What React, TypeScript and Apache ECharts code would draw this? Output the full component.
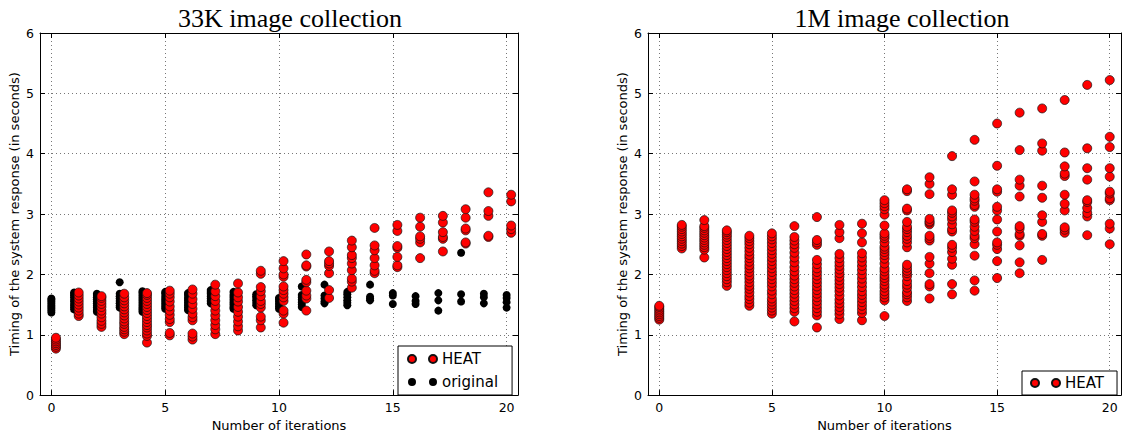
import React, { useEffect, useRef } from "react";
import * as echarts from "echarts";

// iterations (x categories)
const ITERATIONS = [0, 1, 2, 3, 4, 5, 6, 7, 8, 9, 10, 11, 12, 13, 14, 15, 16, 17, 18, 19, 20];
// HEAT points in the 33K plot sit slightly right of the integer iteration
const HEAT_SHIFT_33K = 0.2;

// 33K image collection — original (black)
const original33k: number[][] = [
  [1.37, 1.40, 1.43, 1.46, 1.49, 1.52, 1.55, 1.58, 1.60],
  [1.42, 1.45, 1.48, 1.51, 1.55, 1.58, 1.62, 1.65, 1.68, 1.70],
  [1.38, 1.41, 1.45, 1.48, 1.52, 1.55, 1.59, 1.62, 1.66, 1.68],
  [1.45, 1.48, 1.52, 1.56, 1.60, 1.64, 1.68, 1.87],
  [1.38, 1.42, 1.45, 1.49, 1.53, 1.57, 1.61, 1.65, 1.69, 1.72],
  [1.43, 1.47, 1.51, 1.55, 1.59, 1.63, 1.68, 1.71],
  [1.41, 1.45, 1.49, 1.53, 1.57, 1.61, 1.66, 1.69],
  [1.52, 1.56, 1.60, 1.64, 1.68, 1.71, 1.74],
  [1.43, 1.46, 1.50, 1.54, 1.58, 1.62, 1.66, 1.71],
  [1.49, 1.53, 1.57, 1.61, 1.64, 1.67],
  [1.43, 1.47, 1.51, 1.55, 1.59, 1.61],
  [1.46, 1.50, 1.54, 1.58, 1.62, 1.66, 1.80],
  [1.52, 1.55, 1.60, 1.65, 1.83],
  [1.49, 1.53, 1.57, 1.62, 1.67, 1.71],
  [1.57, 1.60, 1.63, 1.83],
  [1.51, 1.65, 1.69],
  [1.51, 1.56, 1.64],
  [1.40, 1.57, 1.69],
  [1.55, 1.67, 2.36],
  [1.52, 1.62, 1.68],
  [1.45, 1.54, 1.61, 1.66],
];

// 33K image collection — HEAT (red)
const heat33k: number[][] = [
  [0.77, 0.80, 0.83, 0.86, 0.89, 0.92, 0.95],
  [1.31, 1.35, 1.40, 1.45, 1.50, 1.55, 1.60, 1.65, 1.70],
  [1.13, 1.18, 1.23, 1.29, 1.35, 1.40, 1.46, 1.51, 1.56, 1.61, 1.64],
  [1.01, 1.05, 1.09, 1.13, 1.18, 1.22, 1.27, 1.32, 1.37, 1.42, 1.47, 1.52, 1.57, 1.62, 1.68],
  [0.87, 0.98, 1.02, 1.07, 1.12, 1.16, 1.21, 1.26, 1.31, 1.36, 1.41, 1.46, 1.51, 1.56, 1.61, 1.66, 1.69],
  [0.99, 1.03, 1.21, 1.26, 1.33, 1.40, 1.47, 1.55, 1.62, 1.68, 1.73],
  [0.92, 0.97, 1.02, 1.24, 1.29, 1.35, 1.43, 1.51, 1.59, 1.68, 1.75],
  [1.01, 1.09, 1.16, 1.24, 1.32, 1.40, 1.48, 1.56, 1.64, 1.72, 1.83],
  [1.07, 1.14, 1.22, 1.30, 1.38, 1.46, 1.55, 1.62, 1.70, 1.85],
  [1.12, 1.24, 1.30, 1.45, 1.51, 1.56, 1.64, 1.72, 1.79, 2.01, 2.06],
  [1.20, 1.35, 1.40, 1.56, 1.62, 1.68, 1.74, 1.80, 1.96, 2.00, 2.10, 2.22],
  [1.40, 1.60, 1.65, 1.73, 1.87, 1.91, 2.13, 2.15, 2.33],
  [1.61, 1.74, 2.02, 2.14, 2.18, 2.22, 2.38],
  [1.78, 1.88, 1.93, 2.07, 2.18, 2.27, 2.32, 2.45, 2.56],
  [2.02, 2.06, 2.15, 2.27, 2.40, 2.48, 2.77],
  [2.12, 2.15, 2.29, 2.44, 2.47, 2.72, 2.82],
  [2.27, 2.53, 2.59, 2.63, 2.79, 2.94],
  [2.38, 2.59, 2.62, 2.70, 2.86, 2.97],
  [2.51, 2.53, 2.73, 2.76, 2.94, 3.08],
  [2.62, 2.64, 2.97, 3.05, 3.36],
  [2.69, 2.75, 2.81, 3.21, 3.32],
];

// 1M image collection — HEAT (red)
const heat1m: number[][] = [
  [1.25, 1.28, 1.31, 1.34, 1.37, 1.40, 1.43, 1.46, 1.48],
  [2.43, 2.47, 2.51, 2.55, 2.59, 2.63, 2.67, 2.71, 2.75, 2.79, 2.82],
  [2.28, 2.41, 2.45, 2.49, 2.53, 2.57, 2.61, 2.65, 2.69, 2.73, 2.77, 2.80, 2.90],
  [1.81, 1.87, 1.92, 1.97, 2.02, 2.07, 2.12, 2.17, 2.22, 2.27, 2.32, 2.37, 2.42, 2.47, 2.52, 2.57, 2.62, 2.66, 2.70, 2.73],
  [1.48, 1.53, 1.59, 1.64, 1.70, 1.76, 1.81, 1.87, 1.93, 1.98, 2.04, 2.10, 2.15, 2.21, 2.27, 2.32, 2.38, 2.44, 2.50, 2.55, 2.60, 2.64],
  [1.35, 1.40, 1.45, 1.50, 1.55, 1.60, 1.67, 1.73, 1.80, 1.86, 1.92, 1.98, 2.04, 2.10, 2.16, 2.22, 2.28, 2.34, 2.40, 2.46, 2.52, 2.58, 2.63, 2.68],
  [1.22, 1.38, 1.44, 1.50, 1.56, 1.62, 1.68, 1.74, 1.80, 1.86, 1.92, 1.98, 2.05, 2.12, 2.20, 2.28, 2.36, 2.44, 2.50, 2.56, 2.62, 2.80],
  [1.12, 1.32, 1.38, 1.44, 1.50, 1.56, 1.62, 1.68, 1.74, 1.80, 1.86, 1.92, 1.98, 2.04, 2.10, 2.17, 2.24, 2.49, 2.53, 2.57, 2.95],
  [1.26, 1.34, 1.40, 1.46, 1.52, 1.58, 1.65, 1.72, 1.78, 1.84, 1.90, 1.96, 2.02, 2.08, 2.14, 2.20, 2.27, 2.34, 2.60, 2.70, 2.82],
  [1.24, 1.36, 1.42, 1.48, 1.54, 1.60, 1.66, 1.72, 1.79, 1.86, 1.93, 2.00, 2.07, 2.14, 2.21, 2.28, 2.35, 2.53, 2.68, 2.84],
  [1.31, 1.57, 1.62, 1.67, 1.72, 1.78, 1.83, 1.89, 1.94, 1.99, 2.05, 2.10, 2.18, 2.26, 2.32, 2.37, 2.42, 2.46, 2.53, 2.60, 2.64, 2.68, 2.81, 2.99, 3.08, 3.13, 3.18, 3.23],
  [1.56, 1.62, 1.67, 1.71, 1.78, 1.83, 1.89, 1.97, 2.02, 2.06, 2.11, 2.16, 2.45, 2.53, 2.59, 2.64, 2.70, 2.75, 2.79, 2.87, 3.06, 3.09, 3.38, 3.41],
  [1.60, 1.80, 1.84, 2.02, 2.18, 2.29, 2.56, 2.60, 2.64, 2.83, 2.86, 2.88, 2.92, 3.33, 3.50, 3.61],
  [1.67, 1.84, 2.16, 2.26, 2.37, 2.44, 2.49, 2.71, 2.75, 2.83, 2.91, 2.96, 3.02, 3.06, 3.32, 3.41, 3.96],
  [1.73, 1.90, 2.31, 2.50, 2.60, 2.64, 2.72, 2.79, 2.87, 2.91, 3.12, 3.15, 3.22, 3.26, 3.32, 3.54, 4.23],
  [1.94, 2.22, 2.42, 2.49, 2.53, 2.71, 2.91, 3.06, 3.12, 3.37, 3.41, 3.80, 4.50],
  [2.02, 2.20, 2.48, 2.64, 2.67, 2.76, 2.80, 3.29, 3.47, 3.57, 4.06, 4.68],
  [2.24, 2.64, 2.67, 2.87, 2.98, 3.27, 3.47, 4.05, 4.17, 4.75],
  [2.69, 2.74, 2.78, 3.06, 3.17, 3.32, 3.63, 3.67, 3.79, 4.02, 4.89],
  [2.65, 2.96, 3.02, 3.10, 3.20, 3.23, 3.57, 3.76, 4.09, 5.14],
  [2.50, 2.76, 2.84, 3.23, 3.26, 3.34, 3.37, 3.62, 3.76, 4.11, 4.28, 5.22],
];

const TITLES = ["33K image collection", "1M image collection"];
const X_NAME = "Number of iterations";
const Y_NAME = "Timing of the system response (in seconds)";

const toPoints = (cols: number[][], shift: number) =>
  cols.flatMap((vals, i) => vals.map((v) => [ITERATIONS[i] + shift, v]));

const SANS = "DejaVu Sans";
const TWO_DOTS =
  "path://M0,4a4,4 0 1,0 8,0a4,4 0 1,0 -8,0ZM21,4a4,4 0 1,0 8,0a4,4 0 1,0 -8,0Z";

export default function App() {
  const ref = useRef<HTMLDivElement>(null);

  useEffect(() => {
    document.body.style.margin = "0";
    if (!ref.current) return;
    const chart = echarts.init(ref.current, undefined, { renderer: "svg" });

    const grids = [
      { left: 40, top: 33, width: 478, height: 370 },
      { left: 648, top: 33, width: 475, height: 370 },
    ];

    const xAxes: any[] = [];
    const yAxes: any[] = [];
    grids.forEach((_, g) => {
      const common = {
        gridIndex: g,
        type: "value",
        min: -0.5,
        max: 20.5,
        splitNumber: 4,
        axisLine: { show: true, onZero: false, lineStyle: { color: "#000", width: 1 } },
        axisTick: { show: true, inside: true, length: 5, lineStyle: { color: "#000" } },
      };
      xAxes.push({
        ...common,
        position: "bottom",
        axisLabel: {
          color: "#000",
          fontFamily: SANS,
          fontSize: 12.5,
          margin: 6,
          formatter: (v: number) => (Math.abs(v % 5) < 1e-9 ? String(v) : ""),
        },
        splitLine: { show: true, lineStyle: { type: [1, 3], color: "#777", width: 1 } },
        name: X_NAME,
        nameLocation: "middle",
        nameGap: 18,
        nameTextStyle: { color: "#000", fontFamily: SANS, fontSize: 13 },
      });
      xAxes.push({
        ...common,
        position: "top",
        axisLabel: { show: false },
        splitLine: { show: false },
      });
      const ycommon = {
        gridIndex: g,
        type: "value",
        min: 0,
        max: 6,
        interval: 1,
        axisLine: { show: true, onZero: false, lineStyle: { color: "#000", width: 1 } },
        axisTick: { show: true, inside: true, length: 5, lineStyle: { color: "#000" } },
      };
      yAxes.push({
        ...ycommon,
        position: "left",
        axisLabel: { color: "#000", fontFamily: SANS, fontSize: 12.5, margin: 6 },
        splitLine: { show: true, lineStyle: { type: [1, 3], color: "#777", width: 1 } },
        name: Y_NAME,
        nameLocation: "middle",
        nameGap: 19,
        nameTextStyle: { color: "#000", fontFamily: SANS, fontSize: 13 },
      });
      yAxes.push({
        ...ycommon,
        position: "right",
        axisLabel: { show: false },
        splitLine: { show: false },
      });
    });

    const heatStyle = { color: "#ff0000", borderColor: "#111", borderWidth: 0.7, opacity: 1 };

    const legendCommon = {
      orient: "vertical",
      icon: TWO_DOTS,
      itemWidth: 29,
      itemHeight: 8,
      itemGap: 5,
      borderColor: "#000",
      borderWidth: 1,
      borderRadius: 0,
      backgroundColor: "#fff",
      selectedMode: false,
      textStyle: { color: "#000", fontFamily: SANS, fontSize: 15, lineHeight: 18 },
    };

    chart.setOption({
      animation: false,
      backgroundColor: "#fff",
      title: [
        {
          text: TITLES[0],
          left: 285,
          top: 0,
          textAlign: "center",
          textStyle: { fontFamily: "Liberation Serif", fontSize: 26, fontWeight: "normal", color: "#000" },
        },
        {
          text: TITLES[1],
          left: 897,
          top: 0,
          textAlign: "center",
          textStyle: { fontFamily: "Liberation Serif", fontSize: 26, fontWeight: "normal", color: "#000" },
        },
      ],
      grid: grids,
      xAxis: xAxes,
      yAxis: yAxes,
      legend: [
        { ...legendCommon, data: ["HEAT", "original"], left: 398, top: 346, padding: [4, 14, 4, 9] },
        { ...legendCommon, data: ["HEAT"], left: 1022, top: 371, padding: [3, 13, 3, 8] },
      ],
      series: [
        {
          type: "scatter",
          name: "original",
          xAxisIndex: 0,
          yAxisIndex: 0,
          data: toPoints(original33k, 0),
          symbolSize: 8,
          itemStyle: { color: "#000", opacity: 1 },
          emphasis: { disabled: true },
          z: 2,
        },
        {
          type: "scatter",
          name: "HEAT",
          xAxisIndex: 0,
          yAxisIndex: 0,
          data: toPoints(heat33k, HEAT_SHIFT_33K),
          symbolSize: 9,
          itemStyle: heatStyle,
          emphasis: { disabled: true },
          z: 3,
        },
        {
          type: "scatter",
          name: "HEAT",
          xAxisIndex: 2,
          yAxisIndex: 2,
          data: toPoints(heat1m, 0),
          symbolSize: 9,
          itemStyle: heatStyle,
          emphasis: { disabled: true },
          z: 3,
        },
      ],
    });

    return () => chart.dispose();
  }, []);

  return <div ref={ref} style={{ width: 1124, height: 437 }} />;
}
